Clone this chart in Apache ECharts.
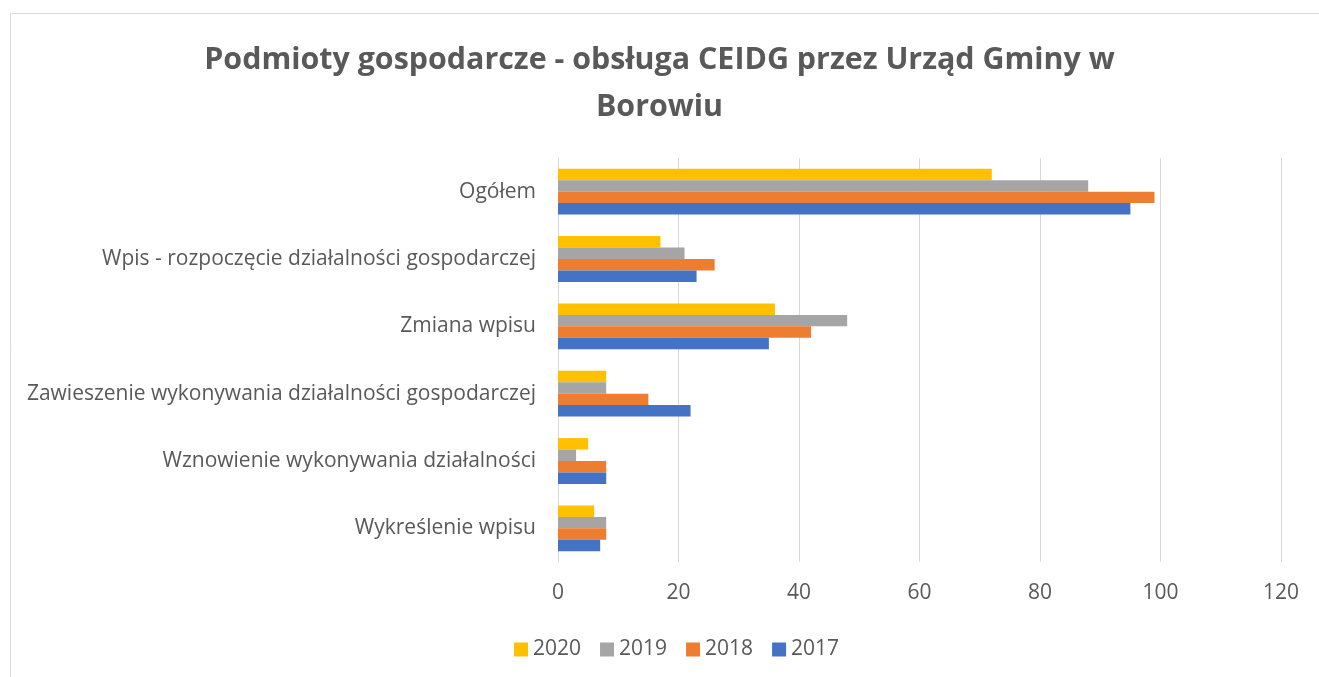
<!DOCTYPE html>
<html>
<head>
    <meta charset="utf-8">
    <title>CEIDG</title>
    <script src="https://cdn.jsdelivr.net/npm/echarts@6/dist/echarts.min.js"></script>
    <style>
        html, body { margin: 0; padding: 0; background: #fff; }
        #main { width: 1319px; height: 677px; }
    </style>
</head>
<body>
<div id="main"></div>
<script type="text/javascript">
    var categories = [
        'Ogółem',
        'Wpis - rozpoczęcie działalności gospodarczej',
        'Zmiana wpisu',
        'Zawieszenie wykonywania działalności gospodarczej',
        'Wznowienie wykonywania działalności',
        'Wykreślenie wpisu'
    ];
    var years = ['2020', '2019', '2018', '2017'];
    var v2020 = [72, 17, 36, 8, 5, 6];
    var v2019 = [88, 21, 48, 8, 3, 8];
    var v2018 = [99, 26, 42, 15, 8, 8];
    var v2017 = [95, 23, 35, 22, 8, 7];
    var colors = ['#FFC000', '#A5A5A5', '#ED7D31', '#4472C4'];

    var myChart = echarts.init(document.getElementById('main'));
    var txt = '#595959';
    var font = '"Open Sans", "DejaVu Sans", sans-serif';

    var all = [v2020, v2019, v2018, v2017];
    var series = [];
    for (var i = 0; i < years.length; i++) {
        series.push({
            name: years[i],
            type: 'bar',
            data: all[i],
            barGap: '0%',
            barCategoryGap: '32%',
            itemStyle: { color: colors[i] }
        });
    }

    option = {
        textStyle: { fontFamily: font },
        animation: false,
        title: {
            text: 'Podmioty gospodarcze - obsługa CEIDG przez Urząd Gminy w\nBorowiu',
            left: 'center',
            top: 32,
            textStyle: {
                color: txt,
                fontSize: 30.4,
                fontWeight: 'bold',
                lineHeight: 47,
                fontFamily: font
            }
        },
        legend: {
            data: years,
            top: 634,
            left: 509,
            itemWidth: 14,
            itemHeight: 14,
            itemGap: 19,
            icon: 'rect',
            textStyle: { color: txt, fontSize: 21, fontFamily: font }
        },
        grid: {
            left: 558,
            right: 38,
            top: 158,
            bottom: 115,
            containLabel: false
        },
        xAxis: {
            type: 'value',
            min: 0,
            max: 120,
            interval: 20,
            axisLine: { show: false },
            axisTick: { show: false },
            axisLabel: { color: txt, fontSize: 21, margin: 21, fontFamily: font },
            splitLine: { lineStyle: { color: '#d9d9d9', width: 1 } }
        },
        yAxis: {
            type: 'category',
            data: categories,
            inverse: true,
            axisLine: { show: true, lineStyle: { color: '#d9d9d9', width: 1 } },
            axisTick: { show: false },
            axisLabel: { color: txt, fontSize: 21, margin: 22, fontFamily: font }
        },
        graphic: [{
            type: 'rect',
            shape: { x: 10.5, y: 13.5, width: 1400, height: 800 },
            style: { fill: null, stroke: '#d9d9d9', lineWidth: 1 },
            silent: true,
            z: -1
        }],
        series: series
    };

    myChart.setOption(option);
</script>
</body>
</html>
